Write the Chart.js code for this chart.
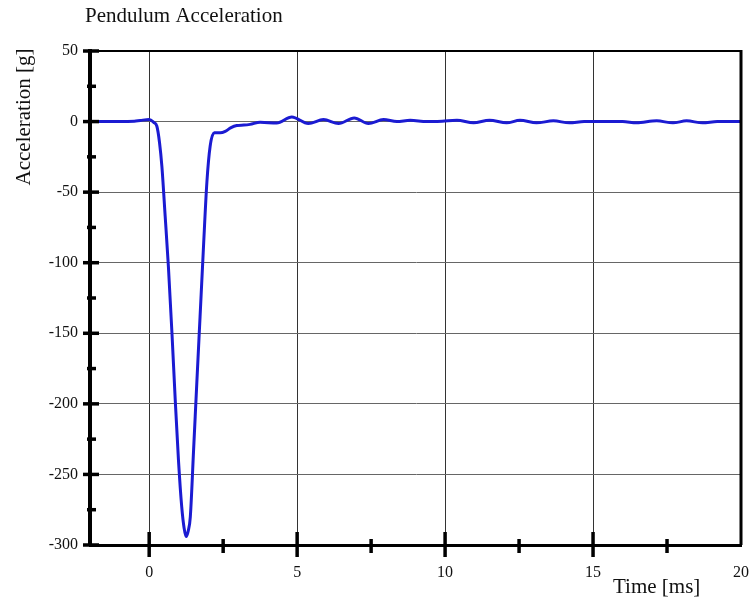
<!DOCTYPE html>
<html>
<head>
<meta charset="utf-8">
<script src="https://cdn.jsdelivr.net/npm/chart.js@4.4.0/dist/chart.umd.min.js"></script>
<style>
  html, body { margin: 0; padding: 0; background: #fff; }
  #wrap { width: 750px; height: 602px; position: relative; }
</style>
</head>
<body>
<div id="wrap"><canvas id="chart" width="750" height="602"></canvas></div>
<script>
// values
const timeMs = [-2, -1.5, -1, -0.5, -0.3, 0, 0.15, 0.26, 0.35, 0.43, 0.54, 0.65, 0.77, 0.88, 0.99, 1.1,
  1.18, 1.25, 1.32, 1.39, 1.5, 1.61, 1.72, 1.83, 1.95, 2.06, 2.2, 2.4, 2.57, 2.75, 2.96, 3.2, 3.41, 3.75,
  4.31, 4.82, 5.38, 5.89, 6.4, 6.93, 7.41, 7.92, 8.37, 8.82, 9.38, 9.9, 10.4, 10.96, 11.5, 12.08, 12.53,
  13.09, 13.66, 14.2, 14.7, 15.5, 16, 16.47, 17.15, 17.7, 18.16, 18.7, 19.2, 20];
const accelG = [0, 0, 0, 0.3, 0.8, 1.4, -0.5, -3.3, -15, -32, -67, -103, -150, -197, -240, -273,
  -288, -294, -290, -280, -233, -185, -138, -91, -43, -17.5, -8, -8, -7, -4.5, -2.8, -2.5, -2, -0.5,
  -1, 3.3, -1.4, 1.4, -1.4, 2.6, -1.4, 1.4, 0, 0.9, 0, 0.3, 0.9, -0.9, 0.9, -0.9, 0.9,
  -0.9, 0.5, -0.9, 0, 0, 0, -0.9, 0.5, -0.9, 0.5, -0.9, 0, 0];

const xTicks = [0, 5, 10, 15, 20];
const xMinor = [2.5, 7.5, 12.5, 17.5];
const yTicks = [50, 0, -50, -100, -150, -200, -250, -300];
const yMinor = [25, -25, -75, -125, -175, -225, -275];

const serif = "'Liberation Serif', 'Times New Roman', serif";

// rahmen, kleine striche und achsentitel
const framePlugin = {
  id: "frame",
  afterDraw(chart) {
    const ctx = chart.ctx;
    const a = chart.chartArea;
    const xs = chart.scales.x, ys = chart.scales.y;
    ctx.save();
    ctx.strokeStyle = "#000";

    ctx.lineWidth = 2;
    ctx.beginPath(); ctx.moveTo(a.left, a.top); ctx.lineTo(a.right, a.top); ctx.stroke();
    ctx.lineWidth = 3;
    ctx.beginPath(); ctx.moveTo(a.right, a.top - 1); ctx.lineTo(a.right, a.bottom); ctx.stroke();

    ctx.lineWidth = 3.5;
    yTicks.forEach(v => {
      const y = ys.getPixelForValue(v);
      ctx.beginPath(); ctx.moveTo(a.left - 7, y); ctx.lineTo(a.left + 9, y); ctx.stroke();
    });
    yMinor.forEach(v => {
      const y = ys.getPixelForValue(v);
      ctx.beginPath(); ctx.moveTo(a.left - 3, y); ctx.lineTo(a.left + 6, y); ctx.stroke();
    });
    xTicks.slice(0, -1).forEach(v => {
      const x = xs.getPixelForValue(v);
      ctx.beginPath(); ctx.moveTo(x, a.bottom - 13); ctx.lineTo(x, a.bottom + 12); ctx.stroke();
    });
    xMinor.forEach(v => {
      const x = xs.getPixelForValue(v);
      ctx.beginPath(); ctx.moveTo(x, a.bottom - 6); ctx.lineTo(x, a.bottom + 8); ctx.stroke();
    });

    ctx.fillStyle = "#111";
    ctx.textBaseline = "alphabetic";
    ctx.textAlign = "left";
    ctx.font = "21px " + serif;
    ctx.fillText("Pendulum Acceleration", 85, 22);

    ctx.font = "21px " + serif;
    ctx.fillText("Time [ms]", 613, 593);

    ctx.translate(30, 117);
    ctx.rotate(-Math.PI / 2);
    ctx.textAlign = "center";
    ctx.fillText("Acceleration [g]", 0, 0);
    ctx.restore();
  }
};

new Chart(document.getElementById("chart"), {
  type: "line",
  data: {
    datasets: [{
      label: "Pendulum Acceleration",
      data: timeMs.map((t, i) => ({ x: t, y: accelG[i] })),
      borderColor: "#1b1bd2",
      borderWidth: 3,
      pointRadius: 0,
      cubicInterpolationMode: "monotone",
      fill: false
    }]
  },
  options: {
    responsive: false,
    animation: false,
    layout: { padding: { top: 51, right: 9, left: 0, bottom: 0 } },
    plugins: { legend: { display: false }, tooltip: { enabled: false } },
    scales: {
      x: {
        type: "linear",
        min: -2,
        max: 20,
        afterBuildTicks: s => { s.ticks = xTicks.map(v => ({ value: v })); },
        afterFit: s => { s.height = 57; s.paddingLeft = 0; s.paddingRight = 0; },
        grid: { color: "#333", lineWidth: 1, drawTicks: false },
        border: { color: "#000", width: 3 },
        ticks: { padding: 18, color: "#111", font: { family: serif, size: 16 }, maxRotation: 0 }
      },
      y: {
        min: -300,
        max: 50,
        afterBuildTicks: s => { s.ticks = yTicks.map(v => ({ value: v })); },
        afterFit: s => { s.width = 90; s.paddingTop = 0; s.paddingBottom = 0; },
        grid: { color: "#666", lineWidth: 1, drawTicks: false },
        border: { color: "#000", width: 4 },
        ticks: { padding: 12, color: "#111", font: { family: serif, size: 16 } }
      }
    }
  },
  plugins: [framePlugin]
});
</script>
</body>
</html>
